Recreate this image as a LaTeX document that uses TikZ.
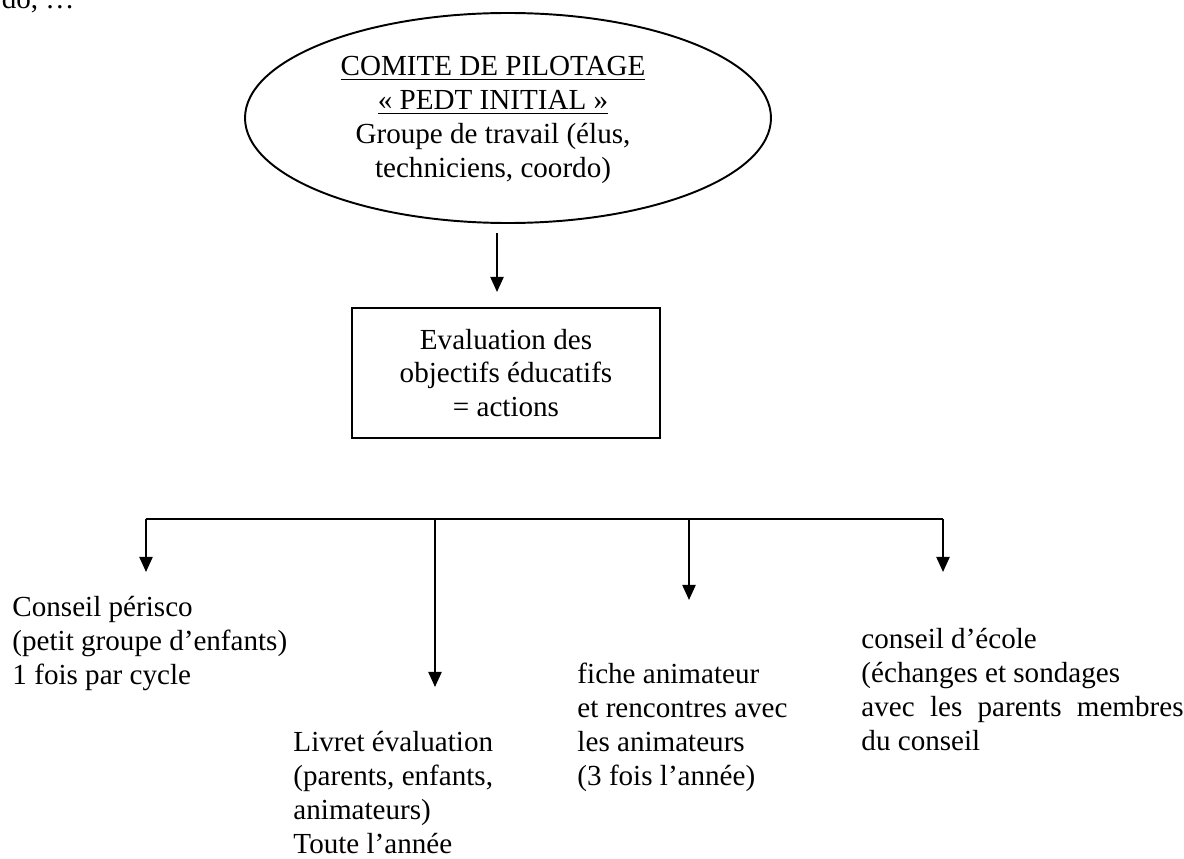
\documentclass[tikz,border=0pt]{standalone}
\usepackage{fontspec}
\setmainfont{Liberation Serif}
\usepackage{tikz}
\usetikzlibrary{arrows.meta}
\usetikzlibrary{shapes.geometric}
\usetikzlibrary{positioning}

\tikzset{
  txt/.style={inner sep=0pt, align=left, font=\fontsize{12}{14}\selectfont},
  ctxt/.style={inner sep=0pt, align=center, font=\fontsize{12}{14}\selectfont},
  arr/.style={line width=0.8pt, -{Triangle[length=6.2pt,width=5.4pt]}},
}

\begin{document}
\begin{tikzpicture}[x=0.41237pt,y=-0.41237pt]
\useasboundingbox (0,0) rectangle (1184,859);
\node[txt, anchor=base east] (prev) at (75,9) {coordo, …};
\node[draw, ellipse, line width=0.8pt, inner sep=0pt, minimum width=216.9pt, minimum height=86.6pt] (comite) at (508,118) {};
\node[ctxt, anchor=north] (comitetext) at (493,56) {\underline{COMITE DE PILOTAGE}\\\underline{« PEDT INITIAL »}\\Groupe de travail (élus,\\techniciens, coordo)};
\node[draw, ctxt, line width=0.8pt, minimum width=127pt, minimum height=53.6pt] (eval) at (506,373) {Evaluation des\\objectifs éducatifs\\= actions};
\coordinate (a1) at (497,233);
\coordinate (a2) at (497,292);
\path[arr] (a1) edge (a2);
% bus
\coordinate (bl) at (146,519);
\coordinate (j2) at (435,519);
\coordinate (j3) at (689,519);
\coordinate (br) at (943,519);
\coordinate (t1) at (146,572);
\coordinate (t2) at (435,687);
\coordinate (t3) at (689,600);
\coordinate (t4) at (943,572);
\draw[line width=0.8pt] (bl) -- (br);
\path[arr] (bl) edge (t1);
\path[arr] (j2) edge (t2);
\path[arr] (j3) edge (t3);
\path[arr] (br) edge (t4);
\node[txt, anchor=north west] (perisco) at (12,596) {Conseil périsco\\(petit groupe d’enfants)\\1 fois par cycle};
\node[txt, anchor=north west] (livret) at (293,731) {Livret évaluation\\(parents, enfants,\\animateurs)\\Toute l’année};
\node[txt, anchor=north west] (fiche) at (577,663) {fiche animateur\\et rencontres avec\\les animateurs\\(3 fois l’année)};
\node[txt, anchor=north west] (ecole) at (861,628) {conseil d’école\\(échanges et sondages\\\makebox[132.8pt][s]{avec les parents membres}\\du conseil};
\end{tikzpicture}
\end{document}
